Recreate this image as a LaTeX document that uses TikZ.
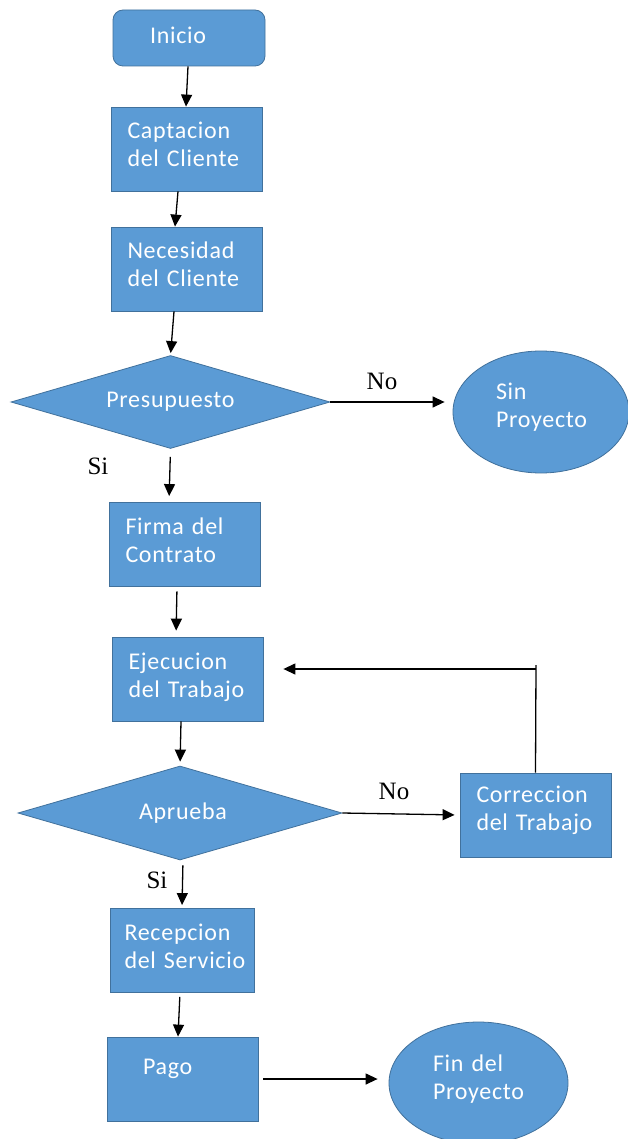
\documentclass[tikz,border=0pt]{standalone}
\usepackage{fontspec}
\setmainfont{Carlito}[LetterSpace=3,WordSpace=0.8]
\newfontfamily\labelfont{Liberation Serif}
\usetikzlibrary{shapes.geometric,arrows.meta}
\definecolor{boxblue}{HTML}{5B9BD5}
\definecolor{boxline}{HTML}{41719C}

\begin{document}
\begin{tikzpicture}[x=1pt, y=-1pt, >={Triangle[length=12pt,width=11pt]}, line width=1.3pt,
  box font/.style={font=\fontsize{24}{28}\selectfont},
  lift/.style={execute at end node={\endgraf\vspace*{#1}}},
  blue node/.style={rectangle,draw=boxline,fill=boxblue,text=white,line width=0.8pt,box font,
    minimum width=151pt,minimum height=84pt,text width=118pt,inner xsep=16.5pt,align=left},
  main node/.style={blue node,lift=9pt},
  start node/.style={blue node,rounded corners=10pt,minimum width=152pt,minimum height=56pt,text width=119pt,lift=6pt},
  decision node/.style={diamond,draw=boxline,fill=boxblue,text=white,line width=0.8pt,box font,
    inner sep=0pt,shape aspect=3.4,minimum width=319pt,minimum height=93pt},
  end node/.style={ellipse,draw=boxline,fill=boxblue,text=white,line width=0.8pt,box font,
    inner sep=1pt,minimum width=176pt,minimum height=122pt,text width=90pt,align=left},
  label node/.style={font=\labelfont\fontsize{25}{28}\selectfont,inner sep=0pt}]

    \fill[white] (0,0) rectangle (627,1139);
    \useasboundingbox (0,0) rectangle (627,1139);

    \node[start node] (inicio) at (189,38) {\hspace*{20.5pt}Inicio};
    \node[main node] (capt) at (186.5,149) {Captacion\\del Cliente};
    \node[main node] (nec) at (186.5,269) {Necesidad\\del Cliente};
    \node[decision node] (pres) at (170.5,402) {Presupuesto};
    \node[end node, lift=9pt] (sinp) at (541,412) {Sin\\Proyecto};
    \node[main node] (firma) at (184.5,544.5) {Firma del\\Contrato};
    \node[blue node, lift=3pt] (ejec) at (187.5,679) {Ejecucion\\del Trabajo};
    \node[decision node, minimum width=324pt, minimum height=94pt] (aprueba) at (180,813) {\hspace*{6pt}Aprueba};
    \node[main node] (corr) at (535.5,815) {Correccion\\del Trabajo};
    \node[main node, minimum width=144pt, text width=117pt, inner xsep=13.5pt] (recep) at (182,950.5) {\hspace*{1pt}Recepcion\\\hspace*{1pt}\mbox{del Servicio}};
    \node[blue node] (pago) at (182.5,1079) {\hspace*{19.5pt}Pago\\[-4pt]\mbox{}};
    \node[end node, minimum width=179pt, text width=91pt, lift=8pt] (fin) at (478.5,1083) {Fin del\\Proyecto};

    \node[label node] (no1) at (382,381) {No};
    \node[label node] (si1) at (98,466) {Si};
    \node[label node] (no2) at (394,791) {No};
    \node[label node] (si2) at (157,880) {Si};

    \coordinate (corner) at (536,669);

    \path[->] ([xshift=-1pt]inicio.south) edge ([xshift=-0.5pt]capt.north);
    \path[->] ([xshift=-8.5pt]capt.south) edge ([xshift=-11.5pt]nec.north);
    \path[->, shorten >=2pt] ([xshift=-12.5pt]nec.south) edge (pres.north);
    \path[->, shorten >=8pt] (pres.east) edge (pres.east -| sinp.west);
    \path[->, shorten <=8pt, shorten >=6pt] (pres.south) edge ([xshift=-15.5pt]firma.north);
    \path[->, shorten <=4.5pt, shorten >=6pt] ([xshift=-7.5pt]firma.south) edge ([xshift=-11.5pt]ejec.north);
    \path[->, shorten >=4pt] ([xshift=-6.5pt]ejec.south) edge (aprueba.north);
    \path[->, shorten >=5pt] (aprueba.east) edge (corr.west);
    \draw (corr.north) -- ([yshift=4pt]corner);
    \path[->, shorten >=20pt] (corner) edge (ejec.east |- corner);
    \path[->, shorten <=5pt, shorten >=3pt] ([xshift=3pt]aprueba.south) edge (recep.north);
    \path[->, shorten <=4pt] ([xshift=-2pt]recep.south) edge ([xshift=-4.5pt]pago.north);
    \path[->, shorten <=5pt, shorten >=11pt] (pago.east) edge (pago.east -| fin.west);
\end{tikzpicture}
\end{document}
